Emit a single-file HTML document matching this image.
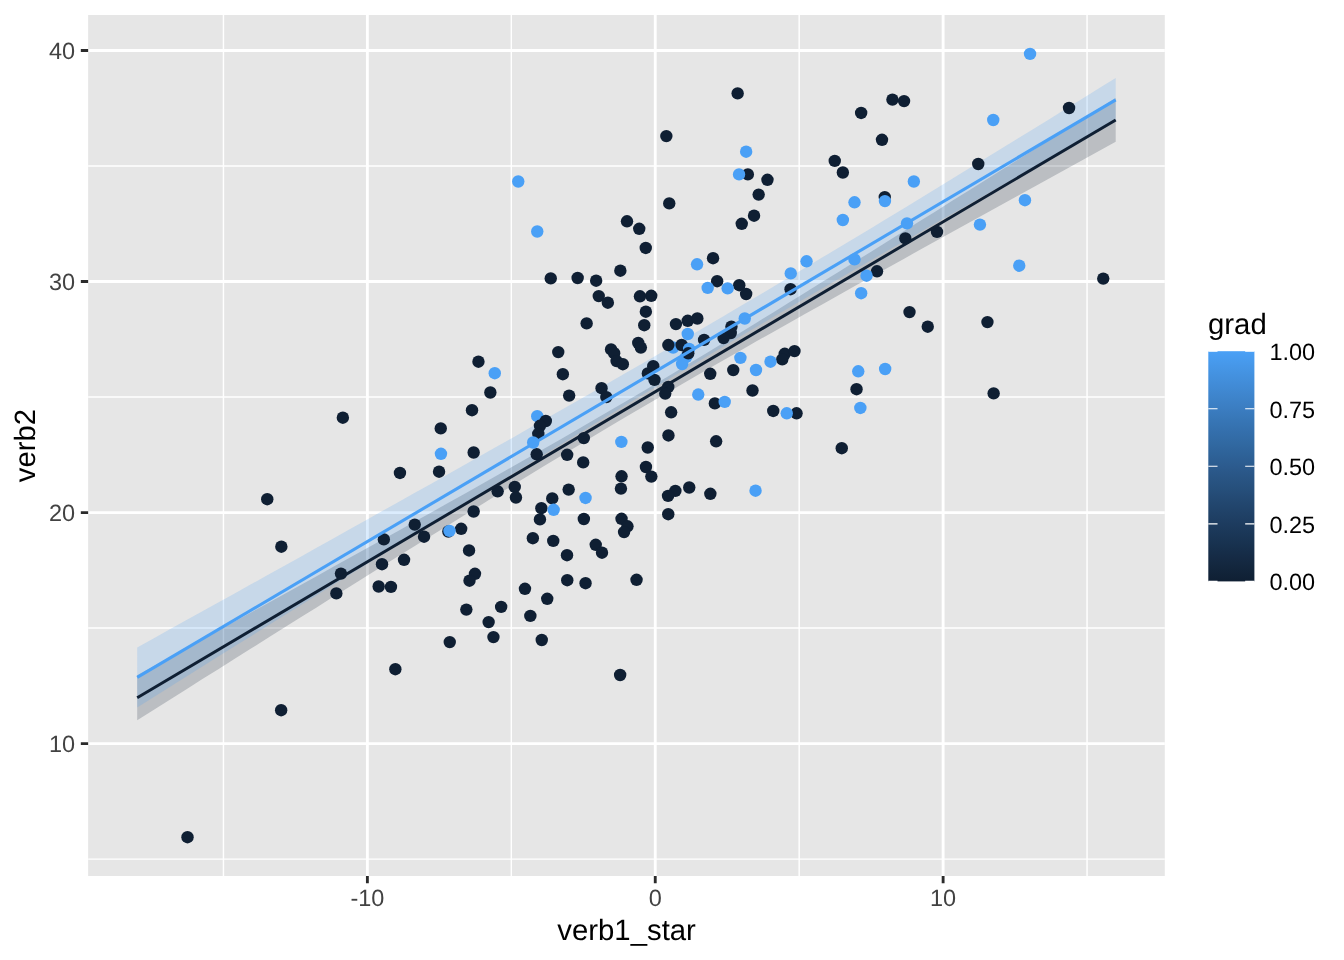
<!DOCTYPE html>
<html><head><meta charset="utf-8"><title>plot</title>
<style>html,body{margin:0;padding:0;background:#fff;width:1344px;height:960px;overflow:hidden;font-family:"Liberation Sans",sans-serif}</style>
</head><body>
<svg width="1344" height="960" viewBox="0 0 1344 960" style="position:absolute;left:0;top:0;will-change:transform;text-rendering:geometricPrecision;font-family:'Liberation Sans',sans-serif">
<rect x="0" y="0" width="1344" height="960" fill="#fff"/>
<rect x="88.15" y="15.0" width="1076.6499999999999" height="861.0" fill="#E6E6E6"/>
<clipPath id="cp"><rect x="88.15" y="15.0" width="1076.6499999999999" height="861.0"/></clipPath>
<path d="M88.15,859.11H1164.8M88.15,628.08H1164.8M88.15,397.05H1164.8M88.15,166.02H1164.8M223.44,15.0V876.0M511.31,15.0V876.0M799.18,15.0V876.0M1087.06,15.0V876.0" stroke="#fff" stroke-width="1.45" fill="none"/>
<path d="M88.15,743.59H1164.8M88.15,512.56H1164.8M88.15,281.53H1164.8M88.15,50.50H1164.8M367.38,15.0V876.0M655.25,15.0V876.0M943.12,15.0V876.0" stroke="#fff" stroke-width="2.85" fill="none"/>
<path d="M137.2,675.2 L153.5,666.2 L169.8,657.2 L186.1,648.2 L202.4,639.2 L218.7,630.2 L235.1,621.2 L251.4,612.2 L267.7,603.2 L284.0,594.2 L300.3,585.2 L316.6,576.2 L332.9,567.1 L349.2,558.1 L365.5,549.0 L381.8,540.0 L398.1,530.9 L414.4,521.8 L430.8,512.7 L447.1,503.6 L463.4,494.4 L479.7,485.3 L496.0,476.1 L512.3,466.8 L528.6,457.6 L544.9,448.3 L561.2,438.9 L577.5,429.5 L593.8,420.1 L610.1,410.5 L626.5,401.0 L642.8,391.4 L659.1,381.7 L675.4,371.9 L691.7,362.1 L708.0,352.3 L724.3,342.3 L740.6,332.4 L756.9,322.4 L773.2,312.4 L789.5,302.3 L805.8,292.2 L822.1,282.1 L838.5,272.0 L854.8,261.8 L871.1,251.7 L887.4,241.5 L903.7,231.3 L920.0,221.1 L936.3,210.9 L952.6,200.6 L968.9,190.4 L985.2,180.2 L1001.5,169.9 L1017.8,159.7 L1034.2,149.4 L1050.5,139.2 L1066.8,128.9 L1083.1,118.6 L1099.4,108.3 L1115.7,98.1 L1115.7,141.7 L1099.4,150.7 L1083.1,159.7 L1066.8,168.7 L1050.5,177.7 L1034.2,186.7 L1017.8,195.7 L1001.5,204.7 L985.2,213.7 L968.9,222.7 L952.6,231.8 L936.3,240.8 L920.0,249.8 L903.7,258.9 L887.4,268.0 L871.1,277.0 L854.8,286.1 L838.5,295.2 L822.1,304.4 L805.8,313.5 L789.5,322.7 L773.2,331.9 L756.9,341.1 L740.6,350.4 L724.3,359.7 L708.0,369.0 L691.7,378.5 L675.4,387.9 L659.1,397.4 L642.8,407.0 L626.5,416.6 L610.1,426.3 L593.8,436.1 L577.5,445.9 L561.2,455.7 L544.9,465.6 L528.6,475.6 L512.3,485.6 L496.0,495.6 L479.7,505.7 L463.4,515.8 L447.1,525.9 L430.8,536.0 L414.4,546.2 L398.1,556.3 L381.8,566.5 L365.5,576.7 L349.2,586.9 L332.9,597.1 L316.6,607.4 L300.3,617.6 L284.0,627.8 L267.7,638.1 L251.4,648.3 L235.1,658.6 L218.7,668.9 L202.4,679.1 L186.1,689.4 L169.8,699.7 L153.5,709.9 L137.2,720.2Z" fill="#0F1F33" fill-opacity="0.2"/>
<path d="M137.2,647.4 L153.5,638.4 L169.8,629.3 L186.1,620.3 L202.4,611.3 L218.7,602.2 L235.1,593.2 L251.4,584.1 L267.7,575.0 L284.0,566.0 L300.3,556.9 L316.6,547.8 L332.9,538.7 L349.2,529.6 L365.5,520.5 L381.8,511.3 L398.1,502.2 L414.4,493.1 L430.8,483.9 L447.1,474.7 L463.4,465.5 L479.7,456.3 L496.0,447.1 L512.3,437.9 L528.6,428.6 L544.9,419.3 L561.2,410.1 L577.5,400.7 L593.8,391.4 L610.1,382.0 L626.5,372.6 L642.8,363.2 L659.1,353.8 L675.4,344.3 L691.7,334.8 L708.0,325.2 L724.3,315.7 L740.6,306.1 L756.9,296.5 L773.2,286.8 L789.5,277.1 L805.8,267.4 L822.1,257.6 L838.5,247.8 L854.8,238.0 L871.1,228.2 L887.4,218.3 L903.7,208.4 L920.0,198.5 L936.3,188.5 L952.6,178.6 L968.9,168.6 L985.2,158.6 L1001.5,148.6 L1017.8,138.5 L1034.2,128.5 L1050.5,118.4 L1066.8,108.3 L1083.1,98.2 L1099.4,88.1 L1115.7,78.0 L1115.7,121.6 L1099.4,130.7 L1083.1,139.9 L1066.8,149.0 L1050.5,158.2 L1034.2,167.4 L1017.8,176.6 L1001.5,185.8 L985.2,195.0 L968.9,204.3 L952.6,213.5 L936.3,222.8 L920.0,232.2 L903.7,241.5 L887.4,250.8 L871.1,260.2 L854.8,269.6 L838.5,279.1 L822.1,288.5 L805.8,298.0 L789.5,307.6 L773.2,317.1 L756.9,326.7 L740.6,336.3 L724.3,346.0 L708.0,355.7 L691.7,365.4 L675.4,375.1 L659.1,384.9 L642.8,394.7 L626.5,404.6 L610.1,414.4 L593.8,424.3 L577.5,434.2 L561.2,444.2 L544.9,454.1 L528.6,464.1 L512.3,474.1 L496.0,484.1 L479.7,494.1 L463.4,504.2 L447.1,514.3 L430.8,524.3 L414.4,534.4 L398.1,544.5 L381.8,554.7 L365.5,564.8 L349.2,574.9 L332.9,585.1 L316.6,595.2 L300.3,605.4 L284.0,615.6 L267.7,625.7 L251.4,635.9 L235.1,646.1 L218.7,656.3 L202.4,666.5 L186.1,676.7 L169.8,687.0 L153.5,697.2 L137.2,707.4Z" fill="#4AA0F6" fill-opacity="0.2"/>
<circle cx="673.15" cy="347.5" r="6.2" fill="#4AA0F6"/>
<circle cx="686.25" cy="356.95" r="6.2" fill="#4AA0F6"/>
<circle cx="537.25" cy="416.2" r="6.2" fill="#4AA0F6"/>
<circle cx="737.65" cy="93.4" r="6.2" fill="#0F1F33"/>
<circle cx="666.35" cy="136.1" r="6.2" fill="#0F1F33"/>
<circle cx="747.85" cy="174.4" r="6.2" fill="#0F1F33"/>
<circle cx="767.45" cy="179.8" r="6.2" fill="#0F1F33"/>
<circle cx="758.65" cy="194.6" r="6.2" fill="#0F1F33"/>
<circle cx="669.25" cy="203.4" r="6.2" fill="#0F1F33"/>
<circle cx="754.05" cy="215.7" r="6.2" fill="#0F1F33"/>
<circle cx="861.15" cy="112.95" r="6.2" fill="#0F1F33"/>
<circle cx="892.45" cy="99.6" r="6.2" fill="#0F1F33"/>
<circle cx="904.05" cy="101.1" r="6.2" fill="#0F1F33"/>
<circle cx="882.0" cy="139.8" r="6.2" fill="#0F1F33"/>
<circle cx="834.75" cy="160.9" r="6.2" fill="#0F1F33"/>
<circle cx="842.85" cy="172.5" r="6.2" fill="#0F1F33"/>
<circle cx="884.75" cy="197.1" r="6.2" fill="#0F1F33"/>
<circle cx="1069.05" cy="108.0" r="6.2" fill="#0F1F33"/>
<circle cx="978.25" cy="164.0" r="6.2" fill="#0F1F33"/>
<circle cx="627.0" cy="221.3" r="6.2" fill="#0F1F33"/>
<circle cx="639.25" cy="228.8" r="6.2" fill="#0F1F33"/>
<circle cx="645.75" cy="247.95" r="6.2" fill="#0F1F33"/>
<circle cx="620.35" cy="270.7" r="6.2" fill="#0F1F33"/>
<circle cx="550.75" cy="278.4" r="6.2" fill="#0F1F33"/>
<circle cx="577.65" cy="278.0" r="6.2" fill="#0F1F33"/>
<circle cx="596.15" cy="280.7" r="6.2" fill="#0F1F33"/>
<circle cx="598.75" cy="296.1" r="6.2" fill="#0F1F33"/>
<circle cx="607.85" cy="302.7" r="6.2" fill="#0F1F33"/>
<circle cx="639.95" cy="296.3" r="6.2" fill="#0F1F33"/>
<circle cx="651.25" cy="295.8" r="6.2" fill="#0F1F33"/>
<circle cx="645.85" cy="311.7" r="6.2" fill="#0F1F33"/>
<circle cx="644.25" cy="325.2" r="6.2" fill="#0F1F33"/>
<circle cx="586.65" cy="323.4" r="6.2" fill="#0F1F33"/>
<circle cx="638.25" cy="342.9" r="6.2" fill="#0F1F33"/>
<circle cx="640.85" cy="347.6" r="6.2" fill="#0F1F33"/>
<circle cx="611.05" cy="349.4" r="6.2" fill="#0F1F33"/>
<circle cx="614.15" cy="353.2" r="6.2" fill="#0F1F33"/>
<circle cx="616.55" cy="361.1" r="6.2" fill="#0F1F33"/>
<circle cx="622.85" cy="364.2" r="6.2" fill="#0F1F33"/>
<circle cx="558.25" cy="352.1" r="6.2" fill="#0F1F33"/>
<circle cx="562.85" cy="374.2" r="6.2" fill="#0F1F33"/>
<circle cx="647.85" cy="373.4" r="6.2" fill="#0F1F33"/>
<circle cx="601.55" cy="388.2" r="6.2" fill="#0F1F33"/>
<circle cx="606.35" cy="397.1" r="6.2" fill="#0F1F33"/>
<circle cx="569.15" cy="395.6" r="6.2" fill="#0F1F33"/>
<circle cx="478.45" cy="361.7" r="6.2" fill="#0F1F33"/>
<circle cx="490.35" cy="392.5" r="6.2" fill="#0F1F33"/>
<circle cx="472.0" cy="410.2" r="6.2" fill="#0F1F33"/>
<circle cx="741.75" cy="223.8" r="6.2" fill="#0F1F33"/>
<circle cx="905.35" cy="238.4" r="6.2" fill="#0F1F33"/>
<circle cx="713.05" cy="258.2" r="6.2" fill="#0F1F33"/>
<circle cx="877.0" cy="271.3" r="6.2" fill="#0F1F33"/>
<circle cx="717.15" cy="281.2" r="6.2" fill="#0F1F33"/>
<circle cx="739.25" cy="285.2" r="6.2" fill="#0F1F33"/>
<circle cx="746.15" cy="294.0" r="6.2" fill="#0F1F33"/>
<circle cx="790.55" cy="289.2" r="6.2" fill="#0F1F33"/>
<circle cx="909.5" cy="312.1" r="6.2" fill="#0F1F33"/>
<circle cx="927.75" cy="326.7" r="6.2" fill="#0F1F33"/>
<circle cx="675.95" cy="324.1" r="6.2" fill="#0F1F33"/>
<circle cx="687.75" cy="320.8" r="6.2" fill="#0F1F33"/>
<circle cx="697.35" cy="318.5" r="6.2" fill="#0F1F33"/>
<circle cx="731.45" cy="326.6" r="6.2" fill="#0F1F33"/>
<circle cx="730.75" cy="333.0" r="6.2" fill="#0F1F33"/>
<circle cx="723.6" cy="338.1" r="6.2" fill="#0F1F33"/>
<circle cx="704.1" cy="339.9" r="6.2" fill="#0F1F33"/>
<circle cx="668.35" cy="345.05" r="6.2" fill="#0F1F33"/>
<circle cx="681.65" cy="345.0" r="6.2" fill="#0F1F33"/>
<circle cx="653.25" cy="366.2" r="6.2" fill="#0F1F33"/>
<circle cx="654.45" cy="379.85" r="6.2" fill="#0F1F33"/>
<circle cx="668.25" cy="386.9" r="6.2" fill="#0F1F33"/>
<circle cx="665.25" cy="393.6" r="6.2" fill="#0F1F33"/>
<circle cx="710.25" cy="373.8" r="6.2" fill="#0F1F33"/>
<circle cx="733.25" cy="370.1" r="6.2" fill="#0F1F33"/>
<circle cx="784.75" cy="353.8" r="6.2" fill="#0F1F33"/>
<circle cx="782.25" cy="359.4" r="6.2" fill="#0F1F33"/>
<circle cx="794.5" cy="351.1" r="6.2" fill="#0F1F33"/>
<circle cx="856.55" cy="389.2" r="6.2" fill="#0F1F33"/>
<circle cx="752.5" cy="390.5" r="6.2" fill="#0F1F33"/>
<circle cx="714.85" cy="403.4" r="6.2" fill="#0F1F33"/>
<circle cx="671.15" cy="412.3" r="6.2" fill="#0F1F33"/>
<circle cx="773.25" cy="410.95" r="6.2" fill="#0F1F33"/>
<circle cx="796.55" cy="413.3" r="6.2" fill="#0F1F33"/>
<circle cx="937.0" cy="231.9" r="6.2" fill="#0F1F33"/>
<circle cx="1103.25" cy="278.6" r="6.2" fill="#0F1F33"/>
<circle cx="987.45" cy="322.1" r="6.2" fill="#0F1F33"/>
<circle cx="993.65" cy="393.4" r="6.2" fill="#0F1F33"/>
<circle cx="342.85" cy="417.7" r="6.2" fill="#0F1F33"/>
<circle cx="267.25" cy="499.2" r="6.2" fill="#0F1F33"/>
<circle cx="281.35" cy="546.7" r="6.2" fill="#0F1F33"/>
<circle cx="340.95" cy="573.6" r="6.2" fill="#0F1F33"/>
<circle cx="336.35" cy="593.4" r="6.2" fill="#0F1F33"/>
<circle cx="545.8" cy="421.0" r="6.2" fill="#0F1F33"/>
<circle cx="539.95" cy="425.8" r="6.2" fill="#0F1F33"/>
<circle cx="538.3" cy="433.9" r="6.2" fill="#0F1F33"/>
<circle cx="536.7" cy="454.3" r="6.2" fill="#0F1F33"/>
<circle cx="440.75" cy="428.4" r="6.2" fill="#0F1F33"/>
<circle cx="473.65" cy="452.5" r="6.2" fill="#0F1F33"/>
<circle cx="439.05" cy="471.7" r="6.2" fill="#0F1F33"/>
<circle cx="399.95" cy="472.95" r="6.2" fill="#0F1F33"/>
<circle cx="583.85" cy="438.1" r="6.2" fill="#0F1F33"/>
<circle cx="647.75" cy="447.5" r="6.2" fill="#0F1F33"/>
<circle cx="567.15" cy="454.8" r="6.2" fill="#0F1F33"/>
<circle cx="583.2" cy="462.4" r="6.2" fill="#0F1F33"/>
<circle cx="645.95" cy="467.0" r="6.2" fill="#0F1F33"/>
<circle cx="651.35" cy="476.6" r="6.2" fill="#0F1F33"/>
<circle cx="621.55" cy="476.3" r="6.2" fill="#0F1F33"/>
<circle cx="620.95" cy="488.6" r="6.2" fill="#0F1F33"/>
<circle cx="514.75" cy="486.9" r="6.2" fill="#0F1F33"/>
<circle cx="497.65" cy="491.3" r="6.2" fill="#0F1F33"/>
<circle cx="515.95" cy="497.5" r="6.2" fill="#0F1F33"/>
<circle cx="568.65" cy="489.6" r="6.2" fill="#0F1F33"/>
<circle cx="552.25" cy="498.4" r="6.2" fill="#0F1F33"/>
<circle cx="541.35" cy="508.2" r="6.2" fill="#0F1F33"/>
<circle cx="539.95" cy="519.4" r="6.2" fill="#0F1F33"/>
<circle cx="583.85" cy="519.0" r="6.2" fill="#0F1F33"/>
<circle cx="473.65" cy="511.5" r="6.2" fill="#0F1F33"/>
<circle cx="414.75" cy="524.6" r="6.2" fill="#0F1F33"/>
<circle cx="383.85" cy="539.4" r="6.2" fill="#0F1F33"/>
<circle cx="424.05" cy="536.7" r="6.2" fill="#0F1F33"/>
<circle cx="448.35" cy="531.5" r="6.2" fill="#0F1F33"/>
<circle cx="461.15" cy="528.8" r="6.2" fill="#0F1F33"/>
<circle cx="621.55" cy="518.8" r="6.2" fill="#0F1F33"/>
<circle cx="627.45" cy="526.3" r="6.2" fill="#0F1F33"/>
<circle cx="624.05" cy="532.1" r="6.2" fill="#0F1F33"/>
<circle cx="532.85" cy="538.2" r="6.2" fill="#0F1F33"/>
<circle cx="553.25" cy="540.9" r="6.2" fill="#0F1F33"/>
<circle cx="595.75" cy="544.8" r="6.2" fill="#0F1F33"/>
<circle cx="602.0" cy="552.7" r="6.2" fill="#0F1F33"/>
<circle cx="567.0" cy="555.2" r="6.2" fill="#0F1F33"/>
<circle cx="469.05" cy="550.45" r="6.2" fill="#0F1F33"/>
<circle cx="382.0" cy="564.2" r="6.2" fill="#0F1F33"/>
<circle cx="404.05" cy="559.8" r="6.2" fill="#0F1F33"/>
<circle cx="474.95" cy="573.8" r="6.2" fill="#0F1F33"/>
<circle cx="469.5" cy="580.7" r="6.2" fill="#0F1F33"/>
<circle cx="378.65" cy="586.5" r="6.2" fill="#0F1F33"/>
<circle cx="390.95" cy="586.9" r="6.2" fill="#0F1F33"/>
<circle cx="567.25" cy="580.2" r="6.2" fill="#0F1F33"/>
<circle cx="585.55" cy="583.2" r="6.2" fill="#0F1F33"/>
<circle cx="636.55" cy="579.8" r="6.2" fill="#0F1F33"/>
<circle cx="524.95" cy="588.8" r="6.2" fill="#0F1F33"/>
<circle cx="547.25" cy="598.8" r="6.2" fill="#0F1F33"/>
<circle cx="501.15" cy="606.9" r="6.2" fill="#0F1F33"/>
<circle cx="466.35" cy="609.6" r="6.2" fill="#0F1F33"/>
<circle cx="668.45" cy="435.45" r="6.2" fill="#0F1F33"/>
<circle cx="716.15" cy="441.3" r="6.2" fill="#0F1F33"/>
<circle cx="841.75" cy="448.2" r="6.2" fill="#0F1F33"/>
<circle cx="689.25" cy="487.5" r="6.2" fill="#0F1F33"/>
<circle cx="675.35" cy="490.9" r="6.2" fill="#0F1F33"/>
<circle cx="668.05" cy="495.9" r="6.2" fill="#0F1F33"/>
<circle cx="710.35" cy="493.8" r="6.2" fill="#0F1F33"/>
<circle cx="668.25" cy="514.2" r="6.2" fill="#0F1F33"/>
<circle cx="488.65" cy="622.1" r="6.2" fill="#0F1F33"/>
<circle cx="530.35" cy="615.9" r="6.2" fill="#0F1F33"/>
<circle cx="493.45" cy="637.1" r="6.2" fill="#0F1F33"/>
<circle cx="449.75" cy="642.1" r="6.2" fill="#0F1F33"/>
<circle cx="541.75" cy="640.0" r="6.2" fill="#0F1F33"/>
<circle cx="395.35" cy="669.2" r="6.2" fill="#0F1F33"/>
<circle cx="620.15" cy="675.0" r="6.2" fill="#0F1F33"/>
<circle cx="281.15" cy="710.2" r="6.2" fill="#0F1F33"/>
<circle cx="187.5" cy="837.2" r="6.2" fill="#0F1F33"/>
<circle cx="518.25" cy="181.5" r="6.2" fill="#4AA0F6"/>
<circle cx="746.15" cy="151.7" r="6.2" fill="#4AA0F6"/>
<circle cx="739.05" cy="174.4" r="6.2" fill="#4AA0F6"/>
<circle cx="913.85" cy="181.5" r="6.2" fill="#4AA0F6"/>
<circle cx="854.5" cy="202.3" r="6.2" fill="#4AA0F6"/>
<circle cx="884.95" cy="201.1" r="6.2" fill="#4AA0F6"/>
<circle cx="1030.05" cy="53.9" r="6.2" fill="#4AA0F6"/>
<circle cx="993.25" cy="120.0" r="6.2" fill="#4AA0F6"/>
<circle cx="1024.95" cy="200.2" r="6.2" fill="#4AA0F6"/>
<circle cx="537.25" cy="231.5" r="6.2" fill="#4AA0F6"/>
<circle cx="494.75" cy="373.2" r="6.2" fill="#4AA0F6"/>
<circle cx="842.85" cy="220.0" r="6.2" fill="#4AA0F6"/>
<circle cx="907.0" cy="223.4" r="6.2" fill="#4AA0F6"/>
<circle cx="697.05" cy="264.3" r="6.2" fill="#4AA0F6"/>
<circle cx="806.55" cy="261.3" r="6.2" fill="#4AA0F6"/>
<circle cx="854.5" cy="259.4" r="6.2" fill="#4AA0F6"/>
<circle cx="790.75" cy="273.4" r="6.2" fill="#4AA0F6"/>
<circle cx="866.55" cy="275.7" r="6.2" fill="#4AA0F6"/>
<circle cx="707.7" cy="287.9" r="6.2" fill="#4AA0F6"/>
<circle cx="727.65" cy="288.4" r="6.2" fill="#4AA0F6"/>
<circle cx="861.15" cy="293.2" r="6.2" fill="#4AA0F6"/>
<circle cx="744.75" cy="318.5" r="6.2" fill="#4AA0F6"/>
<circle cx="687.75" cy="334.0" r="6.2" fill="#4AA0F6"/>
<circle cx="689.15" cy="349.0" r="6.2" fill="#4AA0F6"/>
<circle cx="682.15" cy="364.0" r="6.2" fill="#4AA0F6"/>
<circle cx="740.4" cy="357.85" r="6.2" fill="#4AA0F6"/>
<circle cx="756.0" cy="370.0" r="6.2" fill="#4AA0F6"/>
<circle cx="770.5" cy="361.7" r="6.2" fill="#4AA0F6"/>
<circle cx="858.25" cy="371.3" r="6.2" fill="#4AA0F6"/>
<circle cx="885.15" cy="369.0" r="6.2" fill="#4AA0F6"/>
<circle cx="860.35" cy="407.95" r="6.2" fill="#4AA0F6"/>
<circle cx="698.25" cy="394.55" r="6.2" fill="#4AA0F6"/>
<circle cx="724.7" cy="401.9" r="6.2" fill="#4AA0F6"/>
<circle cx="786.75" cy="413.3" r="6.2" fill="#4AA0F6"/>
<circle cx="979.95" cy="224.6" r="6.2" fill="#4AA0F6"/>
<circle cx="1019.25" cy="265.7" r="6.2" fill="#4AA0F6"/>
<circle cx="533.15" cy="442.5" r="6.2" fill="#4AA0F6"/>
<circle cx="440.95" cy="453.8" r="6.2" fill="#4AA0F6"/>
<circle cx="621.35" cy="441.9" r="6.2" fill="#4AA0F6"/>
<circle cx="585.55" cy="497.95" r="6.2" fill="#4AA0F6"/>
<circle cx="553.65" cy="509.8" r="6.2" fill="#4AA0F6"/>
<circle cx="449.5" cy="530.9" r="6.2" fill="#4AA0F6"/>
<circle cx="755.55" cy="490.7" r="6.2" fill="#4AA0F6"/>
<circle cx="688.25" cy="353.3" r="6.2" fill="#0F1F33"/>
<path d="M137.2,697.7L1115.7,119.9" stroke="#0F1F33" stroke-width="2.95" fill="none"/>
<path d="M137.2,677.4L1115.7,99.8" stroke="#4AA0F6" stroke-width="3.1" fill="none"/>
<path d="M80.82,743.59H88.15M80.82,512.56H88.15M80.82,281.53H88.15M80.82,50.50H88.15M367.38,876.0V883.33M655.25,876.0V883.33M943.12,876.0V883.33" stroke="#2B2B2B" stroke-width="2.85" fill="none"/>
<text x="75.00" y="751.89" font-size="23.47" fill="#424242" text-anchor="end">10</text>
<text x="75.00" y="520.86" font-size="23.47" fill="#424242" text-anchor="end">20</text>
<text x="75.00" y="289.83" font-size="23.47" fill="#424242" text-anchor="end">30</text>
<text x="75.00" y="58.80" font-size="23.47" fill="#424242" text-anchor="end">40</text>
<text x="367.38" y="906.00" font-size="23.47" fill="#424242" text-anchor="middle">-10</text>
<text x="655.25" y="906.00" font-size="23.47" fill="#424242" text-anchor="middle">0</text>
<text x="943.12" y="906.00" font-size="23.47" fill="#424242" text-anchor="middle">10</text>
<text x="626.60" y="940.10" font-size="29.33" fill="#000" text-anchor="middle">verb1_star</text>
<text x="0.00" y="0.00" font-size="29.33" fill="#000" text-anchor="middle" transform="translate(35.3,445.6) rotate(-90)">verb2</text>
<text x="1208.00" y="333.50" font-size="29.33" fill="#000" text-anchor="start">grad</text>
<defs><linearGradient id="lg" x1="0" y1="1" x2="0" y2="0"><stop offset="0.00" stop-color="#0F1F33"/><stop offset="0.05" stop-color="#12253B"/><stop offset="0.10" stop-color="#152A44"/><stop offset="0.15" stop-color="#17304D"/><stop offset="0.20" stop-color="#1A3656"/><stop offset="0.25" stop-color="#1D3C5F"/><stop offset="0.30" stop-color="#204268"/><stop offset="0.35" stop-color="#234871"/><stop offset="0.40" stop-color="#264F7B"/><stop offset="0.45" stop-color="#295584"/><stop offset="0.50" stop-color="#2C5B8E"/><stop offset="0.55" stop-color="#2E6298"/><stop offset="0.60" stop-color="#3169A2"/><stop offset="0.65" stop-color="#346FAC"/><stop offset="0.70" stop-color="#3776B6"/><stop offset="0.75" stop-color="#3B7DC1"/><stop offset="0.80" stop-color="#3E84CB"/><stop offset="0.85" stop-color="#418BD6"/><stop offset="0.90" stop-color="#4492E0"/><stop offset="0.95" stop-color="#4799EB"/><stop offset="1.00" stop-color="#4AA0F6"/></linearGradient></defs>
<rect x="1208.3" y="351.2" width="46.100000000000136" height="230.2" fill="url(#lg)"/>
<text x="1269.40" y="590.40" font-size="23.47" fill="#000" text-anchor="start">0.00</text>
<text x="1269.40" y="532.85" font-size="23.47" fill="#000" text-anchor="start">0.25</text>
<text x="1269.40" y="475.30" font-size="23.47" fill="#000" text-anchor="start">0.50</text>
<text x="1269.40" y="417.75" font-size="23.47" fill="#000" text-anchor="start">0.75</text>
<text x="1269.40" y="360.20" font-size="23.47" fill="#000" text-anchor="start">1.00</text>
<path d="M1208.3,581.40h9.22M1254.4,581.40h-9.22M1208.3,523.85h9.22M1254.4,523.85h-9.22M1208.3,466.30h9.22M1254.4,466.30h-9.22M1208.3,408.75h9.22M1254.4,408.75h-9.22M1208.3,351.20h9.22M1254.4,351.20h-9.22" stroke="#fff" stroke-width="1.1" fill="none"/>
</svg>
</body></html>
